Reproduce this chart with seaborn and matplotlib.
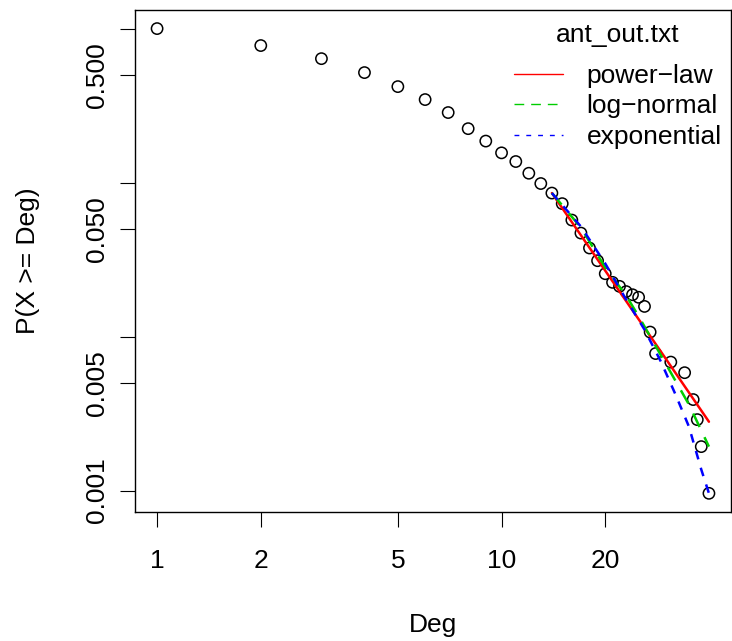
import matplotlib
matplotlib.use("Agg")
import matplotlib.pyplot as plt
from matplotlib.lines import Line2D
from matplotlib.ticker import NullLocator, FixedLocator, FixedFormatter
import seaborn as sns

sns.set_style("ticks")
plt.rcParams["font.family"] = ["Liberation Sans", "DejaVu Sans"]
plt.rcParams["text.color"] = "black"
plt.rcParams["axes.labelcolor"] = "black"
plt.rcParams["xtick.color"] = "black"
plt.rcParams["ytick.color"] = "black"

# Empirical complementary CDF of out-degree
deg = [1, 2, 3, 4, 5, 6, 7, 8, 9, 10, 11, 12, 13, 14, 15, 16, 17, 18, 19, 20,
       21, 22, 23, 24, 25, 26, 27, 28, 31, 34, 36, 37, 38, 40]
ccdf = [1.0, 0.776, 0.638, 0.518, 0.420, 0.346, 0.285, 0.224, 0.186, 0.156,
        0.137, 0.115, 0.0986, 0.0855, 0.0730, 0.0571, 0.0470, 0.0376, 0.0311, 0.0256,
        0.0225, 0.0212, 0.0196, 0.0187, 0.0180, 0.0157, 0.0107, 0.00776, 0.00683, 0.00583,
        0.00390, 0.00289, 0.00193, 0.00096]

# Fitted tails (xmin = 14)
pl_deg = [14, 20, 30, 40]
pl_val = [0.0855, 0.0268, 0.00716, 0.0028]

ln_deg = [14, 17, 20, 23, 25, 30, 35, 40]
ln_val = [0.0855, 0.0510, 0.0281, 0.01846, 0.01355, 0.00664, 0.00362, 0.00193]

exp_deg = [14, 17, 20, 23, 26, 29, 32, 35, 38, 40]
exp_val = [0.0855, 0.0518, 0.0298, 0.0174, 0.0111, 0.00689, 0.0042, 0.0026, 0.00137, 0.00096]

x_ticks = [1, 2, 5, 10, 20]
x_labels = ["1", "2", "5", "10", "20"]
y_ticks = [0.001, 0.005, 0.01, 0.05, 0.1, 0.5, 1.0]
y_labels = ["0.001", "0.005", "", "0.050", "", "0.500", ""]

legend_title = "ant_out.txt"
legend_labels = ["power\u2212law", "log\u2212normal", "exponential"]

FS = 19

fig = plt.figure(figsize=(7.32, 6.41), dpi=100)
ax = fig.add_axes([135 / 732, 1 - 512 / 641, 596 / 732, 502 / 641])
ax.set_xscale("log")
ax.set_yscale("log")

sns.scatterplot(x=deg, y=ccdf, ax=ax, marker="o", s=66, facecolor="none",
                edgecolor="black", linewidth=1.1, zorder=3)

red, green, blue = "#FF0000", "#00CD00", "#0000FF"
sns.lineplot(x=pl_deg, y=pl_val, ax=ax, color=red, lw=1.8, errorbar=None, zorder=4)
sns.lineplot(x=ln_deg, y=ln_val, ax=ax, color=green, lw=1.8, errorbar=None, zorder=5)
ax.lines[-1].set_dashes((6, 4.5))
sns.lineplot(x=exp_deg, y=exp_val, ax=ax, color=blue, lw=1.8, errorbar=None, zorder=6)
ax.lines[-1].set_dashes((3.5, 3.5))

ax.set_xlim(10 ** -0.0641, 10 ** 1.6661)
ax.set_ylim(10 ** -3.139, 10 ** 0.1207)

ax.xaxis.set_major_locator(FixedLocator(x_ticks))
ax.xaxis.set_major_formatter(FixedFormatter(x_labels))
ax.xaxis.set_minor_locator(NullLocator())
ax.yaxis.set_major_locator(FixedLocator(y_ticks))
ax.yaxis.set_major_formatter(FixedFormatter(y_labels))
ax.yaxis.set_minor_locator(NullLocator())

ax.tick_params(axis="x", length=10.8, width=0.8, pad=16, labelsize=FS, colors="black")
ax.tick_params(axis="y", length=10.8, width=0.8, pad=8, labelsize=FS, colors="black")
for lab in ax.get_yticklabels():
    lab.set_rotation(90)
    lab.set_va("center")

for sp in ax.spines.values():
    sp.set_visible(True)
    sp.set_color("black")
    sp.set_linewidth(1.0)

ax.set_xlabel("Deg", fontsize=FS, va="center")
ax.xaxis.set_label_coords(0.5, -113 / 502)
ax.set_ylabel("P(X >= Deg)", fontsize=FS, va="center")
ax.yaxis.set_label_coords(-107 / 596, 0.5)

handles = [
    Line2D([], [], color=red, lw=1.0),
    Line2D([], [], color=green, lw=1.0, dashes=(7, 5)),
    Line2D([], [], color=blue, lw=1.0, dashes=(3.5, 5)),
]
leg = ax.legend(handles, legend_labels, title=legend_title, loc="upper right",
                bbox_to_anchor=(1.0, 1.0 - 4 / 502), frameon=False, fontsize=FS,
                title_fontsize=FS, handlelength=1.85, handletextpad=0.9,
                labelspacing=0.25, borderaxespad=0.05, borderpad=0.3)
# extra room between the legend title and its entries
leg._legend_box.sep = 12

fig.savefig("out.png", dpi=100)
